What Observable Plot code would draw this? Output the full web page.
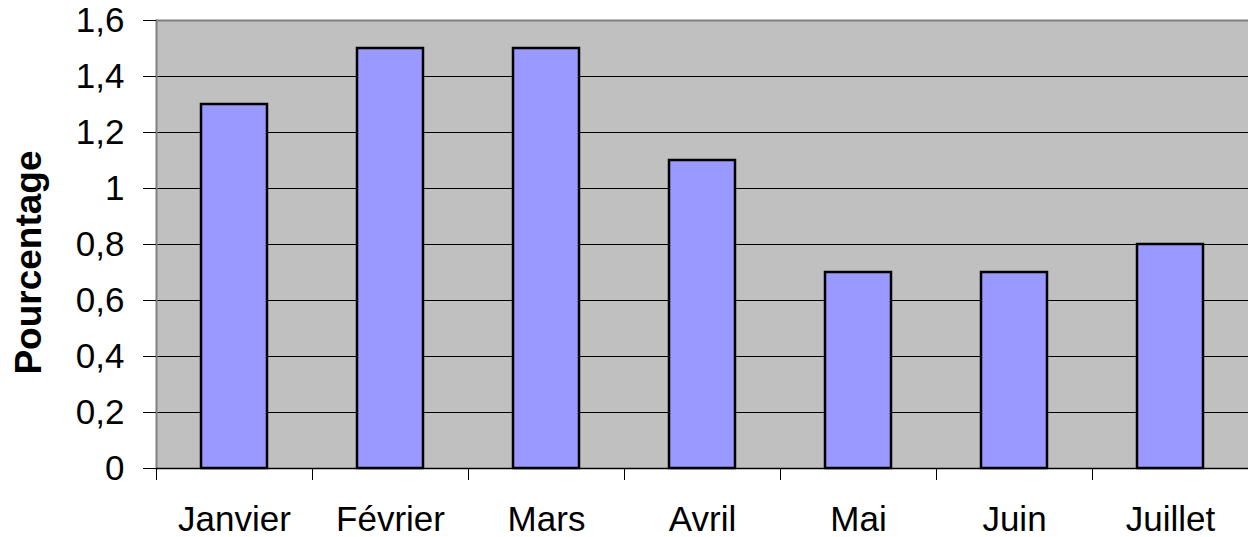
<!DOCTYPE html>
<html><head><meta charset="utf-8">
<script src="https://cdn.jsdelivr.net/npm/d3@7"></script>
<script src="https://cdn.jsdelivr.net/npm/@observablehq/plot@0.6"></script>
<style>
html,body{margin:0;padding:0;background:#fff;}
svg{display:block;}
</style>
</head><body>
<div id="chart"></div>
<script>
const months = ["Janvier", "Février", "Mars", "Avril", "Mai", "Juin", "Juillet"];
const values = [1.3, 1.5, 1.5, 1.1, 0.7, 0.7, 0.8];
const yTicks = [0, 0.2, 0.4, 0.6, 0.8, 1, 1.2, 1.4, 1.6];
const yLabel = "Pourcentage";

const data = months.map((m, i) => ({month: m, value: values[i]}));
const fmt = d => d3.format("~g")(d).replace(".", ",");

const W = 1248, H = 537, mL = 156, mR = 0;
const band = (W - mL - mR) / months.length;

const chart = Plot.plot({
  width: W, height: H,
  marginLeft: mL, marginRight: mR, marginTop: 20, marginBottom: 69,
  style: {fontFamily: "'Liberation Sans', Arial, sans-serif", color: "#000", background: "#fff"},
  x: {domain: months, paddingInner: 0.58, paddingOuter: 0.29, label: null},
  y: {domain: [0, 1.6], label: null},
  marks: [
    Plot.frame({fill: "#C0C0C0", stroke: null}),
    Plot.ruleY(yTicks.slice(1, -1), {stroke: "#000", strokeWidth: 1}),
    Plot.ruleY([1.6], {stroke: "#808080", strokeWidth: 2}),
    Plot.frame({anchor: "left", stroke: "#808080", strokeWidth: 2}),
    Plot.barY(data, {x: "month", y: "value", fill: "#9999FF", stroke: "#000", strokeWidth: 2.5}),
    Plot.ruleY([0], {stroke: "#000", strokeWidth: 1.5}),
    Plot.axisY({ticks: yTicks, tickFormat: fmt, tickSize: 13, tickPadding: 19, label: null, fontSize: 35}),
    Plot.axisX({tickSize: 0, tickPadding: 38, label: null, fontSize: 35}),
    Plot.axisX({ticks: months, tickSize: 12, text: null, dx: -band / 2, label: null}),
    Plot.text([yLabel], {frameAnchor: "left", dx: -127, dy: 18, rotate: -90, textAnchor: "middle",
      fontWeight: "bold", fontSize: 37, text: d => d})
  ]
});
document.getElementById("chart").appendChild(chart);
</script>
</body></html>
